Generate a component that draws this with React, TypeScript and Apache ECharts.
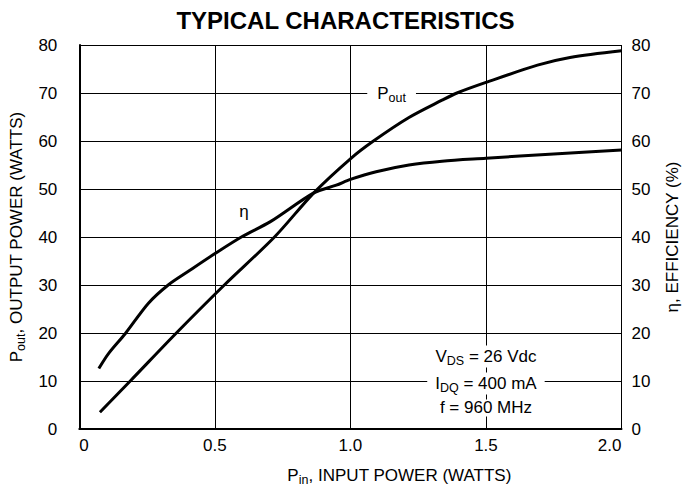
import React, { useEffect, useRef } from "react";
import * as echarts from "echarts";

const FONT = "'Liberation Sans', Arial, Helvetica, sans-serif";

const TITLE = "TYPICAL CHARACTERISTICS";
const X_TICKS = [0, 0.5, 1, 1.5, 2];
const X_TICK_LABELS = ["0", "0.5", "1.0", "1.5", "2.0"];

// Pout (watts) vs Pin (watts)
const poutPin = [0.076, 0.188, 0.358, 0.535, 0.72, 0.865, 1.0, 1.085, 1.216, 1.338, 1.393, 1.5, 1.69, 1.81, 2.0];
const poutVal = [3.5, 10, 20, 30, 40, 49.2, 56.3, 60, 64.9, 68.5, 70, 72.2, 75.8, 77.4, 78.8];

// Efficiency (%) vs Pin (watts)
const etaPin = [0.072, 0.109, 0.17, 0.255, 0.328, 0.401, 0.502, 0.601, 0.705, 0.865, 0.948, 1.0, 1.095, 1.216, 1.338, 1.5, 1.75, 2.0];
const etaVal = [12.6, 15.8, 19.9, 26.2, 30, 32.8, 36.6, 40.1, 43.2, 49.2, 50.8, 52.0, 53.6, 55.0, 55.8, 56.4, 57.3, 58.1];

// Annotation anchors (data coordinates)
const poutLabelAt: [number, number] = [1.152, 70];
const etaLabelAt: [number, number] = [0.607, 45.4];
const conditionAt: [number, number][] = [[1.5, 15.1], [1.5, 9.5], [1.5, 4.4]];
const conditionTexts = ["{a|V}{s|DS}{a| = 26 Vdc}", "{a|I}{s|DQ}{a| = 400 mA}", "{a|f = 960 MHz}"];

const rich = {
  a: { fontSize: 17, fontFamily: FONT, color: "#000" },
  s: { fontSize: 12.5, fontFamily: FONT, color: "#000", padding: [9, 0, 0, 0] },
};

export default function App() {
  const ref = useRef<HTMLDivElement>(null);
  useEffect(() => {
    document.body.style.margin = "0";
    const chart = echarts.init(ref.current!, null, { renderer: "svg" });
    const axisLabel = { color: "#000", fontSize: 17, fontFamily: FONT };
    chart.setOption({
      animation: false,
      backgroundColor: "#fff",
      title: {
        text: TITLE,
        left: "center",
        top: 3,
        textStyle: { fontSize: 24, fontWeight: "bold", fontFamily: FONT, color: "#000" },
      },
      grid: { left: 73.5, right: 69.5, top: 45, bottom: 64 },
      xAxis: {
        type: "value",
        min: 0,
        max: 2,
        interval: 0.5,
        axisLine: { show: true, lineStyle: { color: "#000", width: 2 } },
        axisTick: { show: false },
        splitLine: { show: true, lineStyle: { color: "#000", width: 1 } },
        axisLabel: {
          ...axisLabel,
          margin: 8,
          alignMinLabel: "left",
          alignMaxLabel: "right",
          formatter: (v: number) => X_TICK_LABELS[X_TICKS.indexOf(v)] ?? String(v),
        },
        name: "{a|P}{s|in}{a|, INPUT POWER (WATTS)}",
        nameLocation: "middle",
        nameGap: 35,
        nameTextStyle: { rich, padding: [0, 0, 0, 98] },
      },
      yAxis: [
        {
          type: "value",
          min: 0,
          max: 80,
          interval: 10,
          axisLine: { show: true, lineStyle: { color: "#000", width: 2 } },
          axisTick: { show: false },
          splitLine: { show: true, lineStyle: { color: "#000", width: 1 } },
          axisLabel: { ...axisLabel, margin: 22 },
          name: "{a|P}{s|out}{a|, OUTPUT POWER (WATTS)}",
          nameLocation: "middle",
          nameRotate: 90,
          nameGap: 46,
          nameTextStyle: { rich },
        },
        {
          type: "value",
          min: 0,
          max: 80,
          interval: 10,
          position: "right",
          axisLine: { show: false },
          axisTick: { show: false },
          splitLine: { show: false },
          axisLabel: { ...axisLabel, margin: 10 },
          name: "{a|η, EFFICIENCY (%)}",
          nameLocation: "middle",
          nameRotate: 90,
          nameGap: 42,
          nameTextStyle: { rich },
        },
      ],
      series: [
        {
          type: "line",
          name: "Pout",
          yAxisIndex: 0,
          data: poutPin.map((x, i) => [x, poutVal[i]]),
          smooth: 0.3,
          showSymbol: false,
          lineStyle: { color: "#000", width: 3 },
          z: 5,
        },
        {
          type: "line",
          name: "eta",
          yAxisIndex: 1,
          data: etaPin.map((x, i) => [x, etaVal[i]]),
          smooth: 0.3,
          showSymbol: false,
          lineStyle: { color: "#000", width: 3 },
          z: 5,
        },
      ],
    });

    const px = (p: [number, number]) =>
      chart.convertToPixel({ xAxisIndex: 0, yAxisIndex: 0 }, p) as number[];

    const pp = px(poutLabelAt);
    const ep = px(etaLabelAt);
    const graphics: any[] = [
      {
        type: "text",
        x: pp[0],
        y: pp[1],
        z: 10,
        style: {
          text: "{a|P}{s|out}",
          rich,
          align: "center",
          verticalAlign: "middle",
          backgroundColor: "#fff",
          padding: [2, 10, 2, 10],
        },
      },
      {
        type: "text",
        x: ep[0],
        y: ep[1],
        z: 10,
        style: { text: "{a|η}", rich, align: "center", verticalAlign: "middle" },
      },
    ];
    conditionAt.forEach((c, i) => {
      const p = px(c);
      graphics.push({
        type: "text",
        x: p[0],
        y: p[1],
        z: 10,
        style: {
          text: conditionTexts[i],
          rich,
          align: "center",
          verticalAlign: "middle",
          backgroundColor: "#fff",
          padding: [0, 8, 0, 8],
        },
      });
    });
    chart.setOption({ graphic: graphics });

    return () => chart.dispose();
  }, []);
  return <div ref={ref} style={{ position: "absolute", left: 0, top: 0, width: 691, height: 493 }} />;
}
